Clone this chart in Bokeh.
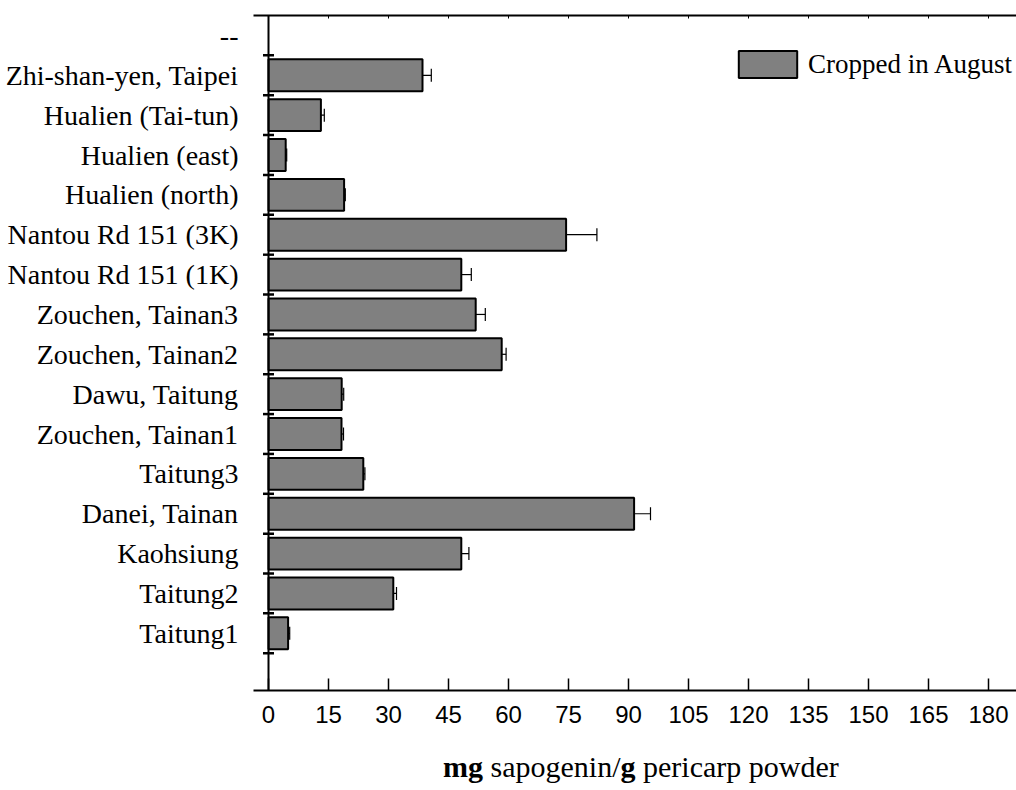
from bokeh.plotting import figure
from bokeh.layouts import column
from bokeh.models import (ColumnDataSource, FixedTicker, LinearAxis, Span, Whisker,
                          TeeHead, Legend, LegendItem, Range1d, Div)
from bokeh.embed import file_html
from bokeh.resources import INLINE

# Sampling sites, listed bottom to top
sites = [
    "Taitung1", "Taitung2", "Kaohsiung", "Danei, Tainan", "Taitung3",
    "Zouchen, Tainan1", "Dawu, Taitung", "Zouchen, Tainan2", "Zouchen, Tainan3",
    "Nantou Rd 151 (1K)", "Nantou Rd 151 (3K)", "Hualien (north)",
    "Hualien (east)", "Hualien (Tai-tun)", "Zhi-shan-yen, Taipei",
]
top_label = "--"

# Sapogenin content (mg/g pericarp powder) and its standard deviation
sapogenin = [4.9, 31.2, 48.2, 91.4, 23.7, 18.25, 18.3, 58.3, 51.8, 48.2,
             74.4, 18.9, 4.3, 13.1, 38.5]
sd = [0.4, 0.8, 1.9, 4.1, 0.4, 0.5, 0.5, 1.1, 2.4, 2.5, 7.7, 0.3, 0.25, 0.85, 2.2]

x_ticks = list(range(0, 181, 15))
series_name = "Cropped in August"

positions = list(range(1, len(sites) + 1))
label_positions = positions + [len(sites) + 1]
label_text = {pos: name for pos, name in zip(positions, sites)}
label_text[len(sites) + 1] = top_label
tick_marks = [k + 0.5 for k in range(len(sites) + 1)]

src = ColumnDataSource(dict(
    pos=positions,
    val=sapogenin,
    hi=[v + e for v, e in zip(sapogenin, sd)],
))

p = figure(width=1016, height=742,
           x_range=Range1d(-3.75, 187), y_range=Range1d(-0.435, 16.5),
           output_backend="svg", toolbar_location=None,
           x_axis_location=None, y_axis_location=None,
           min_border_left=253, min_border_right=0,
           min_border_top=15, min_border_bottom=52)
p.outline_line_color = None
p.background_fill_color = "white"
p.border_fill_color = "white"

# bottom value axis
bottom = LinearAxis(ticker=FixedTicker(ticks=x_ticks))
bottom.axis_line_width = 2
bottom.axis_line_color = "black"
bottom.major_tick_in = 12
bottom.major_tick_out = 0
bottom.major_tick_line_width = 1.5
bottom.minor_tick_line_color = None
bottom.major_label_text_font = "Liberation Sans"
bottom.major_label_text_font_size = "24px"
bottom.major_label_text_color = "black"
bottom.major_label_standoff = 15
p.add_layout(bottom, "below")

# top frame line with small ticks, no labels
top = LinearAxis(ticker=FixedTicker(ticks=x_ticks),
                 major_label_overrides={t: "" for t in x_ticks})
top.axis_line_width = 2
top.major_tick_in = 3
top.major_tick_out = 0
top.major_tick_line_width = 1
top.minor_tick_line_color = None
top.major_label_standoff = 0
p.add_layout(top, "above")

# site names on the left
left = LinearAxis(ticker=FixedTicker(ticks=label_positions),
                  major_label_overrides=label_text)
left.axis_line_color = None
left.major_tick_line_color = None
left.minor_tick_line_color = None
left.major_label_text_font = "Liberation Serif"
left.major_label_text_font_size = "28px"
left.major_label_text_color = "black"
left.major_label_standoff = 9
p.add_layout(left, "left")

# vertical axis line at zero with crossing tick marks
p.add_layout(Span(location=0, dimension="height", line_color="black", line_width=2))
p.scatter(x=[0] * len(tick_marks), y=tick_marks, marker="dash", size=11,
          line_color="black", line_width=2.5)

bars = p.hbar(y="pos", left=0, right="val", height=0.8, source=src,
              fill_color="#808080", line_color="black", line_width=2)

p.add_layout(Whisker(source=src, base="pos", lower="val", upper="hi",
                     dimension="width", line_color="black", line_width=1.2,
                     lower_head=None,
                     upper_head=TeeHead(size=13, line_color="black", line_width=1.2)))

legend = Legend(items=[LegendItem(label=series_name, renderers=[bars])],
                location=(478, 609), glyph_width=73, glyph_height=34,
                label_text_font="Liberation Serif", label_text_font_size="27px",
                label_text_color="black", label_standoff=4, label_height=28,
                padding=0, margin=0, spacing=0,
                border_line_alpha=0, background_fill_alpha=0)
p.add_layout(legend)

p.xgrid.visible = False
p.ygrid.visible = False

# axis title with bold units
title = Div(
    text="<b>mg</b> sapogenin/<b>g</b> pericarp powder",
    width=1016, height=48, margin=0,
    styles={"font-family": "Liberation Serif", "font-size": "30px",
            "line-height": "36px", "color": "black",
            "padding-left": "443px", "padding-top": "7px",
            "white-space": "nowrap"},
)

open("out.html", "w").write(file_html(column(p, title, spacing=0), INLINE))
